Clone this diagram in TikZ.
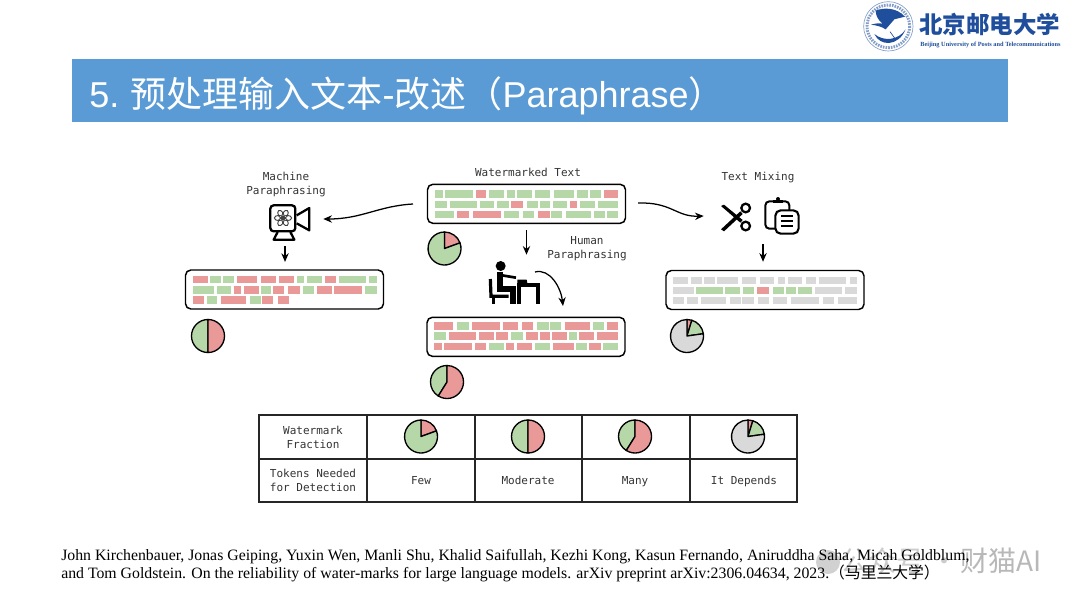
\documentclass[tikz,border=0pt]{standalone}
\usepackage{fontspec}
\setmainfont{Liberation Serif}
\setsansfont{Liberation Sans}
\setmonofont{DejaVu Sans Mono}
\newfontfamily\cjk{Noto Sans CJK SC}
\newfontfamily\cjkheavy{Noto Sans CJK SC Black}
\usetikzlibrary{arrows.meta,positioning,calc}

\definecolor{tokg}{HTML}{B6D7A8}
\definecolor{tokr}{HTML}{EA9999}
\definecolor{tokk}{HTML}{D9D9D9}
\definecolor{headerblue}{HTML}{5B9BD5}
\definecolor{schoolblue}{HTML}{1F4E9C}

\tikzset{
    tokenbox/.style={draw=black, line width=1.1pt, rounded corners=4pt, fill=white,
        minimum width=148.5pt, minimum height=29.25pt, inner sep=0pt},
    iconbox/.style={inner sep=0pt, minimum width=#1},
    monolabel/.style={font=\ttfamily\fontsize{8.25}{10.5}\selectfont, text=black!80, align=center, inner sep=0pt},
    flowarrow/.style={-{Stealth[length=6.5pt,width=5.5pt]}, line width=0.95pt},
    pieline/.style={draw=black, line width=1pt, line join=round},
    tableline/.style={draw=black!85, line width=0.8pt, line cap=rect}
}

% one row of tokens, in zoomed units
\newcommand{\tokenrow}[2]{
    \foreach \xa/\xb/\col in {#2} {
        \fill[fill=tok\col] (\xa,#1-1) rectangle (\xb,#1+21);
    }
}
% pie chart at a centre, wedges as start/end/colour
\newcommand{\wmpie}[3]{
    \begin{scope}[shift={(#1,#2)},y=0.75pt]
        \foreach \a/\b/\col in {#3} {
            \filldraw[pieline, fill=tok\col] (0,0) -- (\a:16.5) arc (\a:\b:16.5) -- cycle;
        }
    \end{scope}
}

\begin{document}
\begin{tikzpicture}[x=0.75pt,y=-0.75pt]
    \useasboundingbox (0,0) rectangle (1080,604);

    % header
    \fill[headerblue] (72,59) rectangle (1008,122);
    \node[anchor=base west, inner sep=0pt, text=white, font=\sffamily\fontsize{27}{27}\selectfont] (title) at (89,107)
        {5.\hspace{8.5pt}{\cjk 预处理输入文本}-{\cjk 改述（}Paraphrase{\cjk ）}};

    % school logo
    \begin{scope}[shift={(855,0)},scale=1/3]
        \draw[schoolblue!55, line width=0.5pt] (100,79) circle (74);
        \draw[schoolblue!55, line width=2.2pt, dash pattern=on 1.2pt off 0.8pt] (100,79) circle (64);
        \fill[schoolblue] (62,32) .. controls (85,22) and (125,22) .. (150,50)
            -- (118,58) -- (92,88) .. controls (80,80) and (65,76) .. (48,74)
            .. controls (62,70) and (75,68) .. (84,72) .. controls (68,60) and (62,45) .. (62,32) -- cycle;
        \fill[schoolblue] (58,102) .. controls (75,140) and (130,140) .. (152,88)
            .. controls (130,122) and (85,125) .. (58,102) -- cycle;
        \draw[schoolblue, line width=0.5pt] (105,95) -- (120,116);
    \end{scope}
    \node[anchor=west, inner sep=0pt, text=schoolblue, font=\cjkheavy\fontsize{17.6}{18}\selectfont] (school) at (919,24) {北京邮电大学};
    \node[anchor=west, inner sep=0pt, text=schoolblue, font=\rmfamily\bfseries\fontsize{4.75}{5}\selectfont] (schoolen) at (920,45) {Beijing University of Posts and Telecommunications};

    % token boxes
    \node[tokenbox] (watermarked) at (526.5,203.8) {};
    \node[tokenbox] (machine) at (284.5,289.5) {};
    \node[tokenbox] (human) at (526,336.8) {};
    \node[tokenbox] (mixing) at (765,290) {};

    % watermarked
    \begin{scope}[shift={(410,155)},scale=1/3]
        \tokenrow{107}{75/98/g,105/188/g,197/229/r,238/283/g,292/314/g,322/367/g,376/421/g,431/493/g,501/534/g,541/574/g,581/625/r}
        \tokenrow{138}{75/111/g,119/201/g,209/253/g,262/296/g,304/340/r,351/385/g,391/421/g,428/472/g,480/501/r,510/554/g,563/625/g}
        \tokenrow{168}{75/131/g,142/178/r,190/272/r,282/327/g,338/372/g,384/419/r,422/456/g,467/542/g,552/585/g,591/625/g}
        % human
        \tokenrow{503}{73/129/r,140/176/g,187/270/r,280/325/r,336/370/r,381/416/g,420/454/g,464/540/r,549/583/g,590/623/r}
        \tokenrow{533}{73/109/g,117/199/r,207/251/r,259/293/r,302/338/g,349/383/r,389/419/r,425/470/r,478/500/g,508/553/r,561/623/r}
        \tokenrow{564}{73/95/r,103/186/r,195/227/r,236/281/g,289/312/r,320/365/r,374/420/g,429/491/r,498/532/g,538/572/r,579/623/g}
    \end{scope}
    % machine
    \begin{scope}[shift={(170,155)},scale=1/3]
        \tokenrow{364}{68/113/r,120/153/g,160/193/g,200/262/r,273/317/r,328/372/r,381/403/g,412/456/g,466/497/r,506/588/g,598/620/g}
        \tokenrow{395}{70/131/g,140/184/g,193/214/r,222/266/r,273/303/g,310/342/r,355/390/r,398/433/g,441/485/r,493/576/r,584/620/g}
        \tokenrow{425}{70/102/r,110/142/g,154/227/r,239/273/g,275/310/r,323/356/r}
    \end{scope}
    % mixing
    \begin{scope}[shift={(630,155)},scale=1/3]
        \tokenrow{366}{130/175/k,182/215/k,222/255/k,262/324/k,335/379/k,389/433/k,443/465/k,473/517/k,527/558/k,567/649/k,659/680/k}
        \tokenrow{397}{130/193/k,197/278/g,286/330/g,339/371/g,381/416/r,428/461/g,468/498/g,503/546/g,554/636/k,644/680/k}
        \tokenrow{427}{130/162/k,170/204/k,214/288/k,300/332/k,336/371/k,384/417/k,428/472/k,484/566/k,578/612/k,624/680/k}
    \end{scope}

    % labels
    \node[monolabel] (wmlabel) at (528,172) {Watermarked Text};
    \node[monolabel] (machinelabel) at (286,184) {Machine\\Paraphrasing};
    \node[monolabel] (humanlabel) at (587,248.5) {Human\\Paraphrasing};
    \node[monolabel] (mixlabel) at (758,177) {Text Mixing};

    % camera
    \begin{scope}[shift={(262,198)},scale=1/3]
        \draw[line width=1.7pt, rounded corners=2.5pt] (25,22) rectangle (100,100);
        \draw[line width=1.7pt, line join=round] (104,52) -- (142,30) -- (142,97) -- (104,76);
        \draw[line width=1.7pt, line join=round] (47,102) -- (35,125) -- (97,125) -- (85,102);
        \foreach \a in {0,60,...,300} {
            \draw[black!75, line width=0.7pt, rotate around={\a:(63,60)}] (75,60) ellipse (14 and 8);
        }
    \end{scope}

    % person at desk
    \begin{scope}[shift={(480,255)},scale=1/3]
        \fill (62,33) circle (15);
        \draw[line width=4.4pt, line join=miter] (59,50) -- (59,103) -- (98,103) -- (98,148);
        \draw[line width=2pt] (60,60) -- (108,68);
        \draw[line width=2.4pt, line join=miter] (31,72) -- (33,124) -- (86,124);
        \draw[line width=2.4pt] (40,124) -- (40,148);
        \draw[line width=3pt, line join=miter] (118,148) -- (118,90) -- (175,90) -- (175,148);
        \fill (112,74) -- (140,74) -- (142,84) -- (112,84) -- cycle;
    \end{scope}

    % scissors and clipboard
    \begin{scope}[shift={(712,192)},scale=1/3]
        \fill (27,42) -- (36,38) -- (92,84) -- (85,92) -- cycle;
        \fill (27,112) -- (36,118) -- (92,66) -- (85,58) -- cycle;
        \draw[line width=1.7pt] (101,48) circle (13);
        \draw[line width=1.7pt] (101,102) circle (13);
        \draw[line width=1.5pt, rounded corners=3pt] (190,110) -- (160,110) -- (160,28) -- (232,28) -- (232,55);
        \fill (183,33) rectangle (213,24);
        \fill (198,21) circle (6);
        \draw[line width=1.6pt, fill=white, rounded corners=4pt] (190,55) rectangle (260,125);
        \foreach \yy in {73,88,103} {
            \draw[line width=1.3pt] (207,\yy) -- (243,\yy);
        }
    \end{scope}

    % invisible frames for the icons
    \node[iconbox=57pt, minimum height=40.5pt] (camera) at (285,219) {};
    \node[iconbox=88.5pt, minimum height=42pt] (clipper) at (763,216) {};
    \node[iconbox=60pt, minimum height=37.5pt] (person) at (526.5,280) {};
    \coordinate (turnfrom) at (535,272);
    \coordinate (turnto) at (563,306);
    \coordinate (wmleft) at (413,204);
    \coordinate (wmright) at (638,203);

    % arrows
    \draw[flowarrow] (wmleft) .. controls (378,206) and (362,219) .. (camera.east);
    \draw[flowarrow] (wmright) .. controls (672,202) and (676,217) .. (clipper.west);
    \draw[flowarrow, shorten >=5.5pt] (camera.south) -- (camera.south |- machine.north);
    \draw[flowarrow, shorten >=6pt] (clipper.south) -- (clipper.south |- mixing.north);
    \draw[flowarrow, shorten <=4.5pt] (watermarked.south) -- (person.north);
    \draw[flowarrow] (turnfrom) .. controls (550,268) and (561,288) .. (turnto);

    % pies
    \wmpie{444.5}{248.5}{90/20/r,20/-270/g}
    \wmpie{208}{336}{90/270/g,-90/90/r}
    \wmpie{447}{382}{90/238/g,238/450/r}
    \wmpie{687}{336}{90/73/r,73/8/g,8/-270/k}

    % table
    \draw[tableline] (259,415) rectangle (797,502);
    \draw[tableline] (259,459) -- (797,459);
    \foreach \xx in {367,475,582,690} {
        \draw[tableline] (\xx,415) -- (\xx,502);
    }
    \node[monolabel] (fraction) at (313,437) {Watermark\\Fraction};
    \node[monolabel] (needed) at (313,480.5) {Tokens Needed\\for Detection};
    \node[monolabel, anchor=base] (few) at (421,484.5) {Few};
    \node[monolabel, anchor=base] (moderate) at (528,484.5) {Moderate};
    \node[monolabel, anchor=base] (many) at (635,484.5) {Many};
    \node[monolabel, anchor=base] (depends) at (744,484.5) {It Depends};
    \wmpie{421}{436.5}{90/20/r,20/-270/g}
    \wmpie{528}{436.5}{90/270/g,-90/90/r}
    \wmpie{635}{436.5}{90/238/g,238/450/r}
    \wmpie{748}{436.5}{90/73/r,73/8/g,8/-270/k}

    % watermark
    \fill[black!18] (828,562) circle (12);
    \node[anchor=west, inner sep=0pt, text=black!20, font=\cjk\fontsize{21}{21}\selectfont] (mpname) at (840,561) {公众号 ·};
    \node[anchor=west, inner sep=0pt, text=black!28, font=\cjk\fontsize{21}{21}\selectfont] (mpcat) at (960,561) {财猫AI};

    % reference
    \node[anchor=base west, inner sep=0pt, font=\rmfamily\fontsize{11.85}{11.85}\selectfont] (refone) at (61,560)
        {John Kirchenbauer, Jonas Geiping, Yuxin Wen, Manli Shu, Khalid Saifullah, Kezhi Kong, Kasun Fernando, Aniruddha Saha, Micah Goldblum,};
    \node[anchor=base west, inner sep=0pt, font=\rmfamily\fontsize{11.85}{11.85}\selectfont] (reftwo) at (61,578)
        {and Tom Goldstein. On the reliability of water-marks for large language models. arXiv preprint arXiv:2306.04634, 2023.{\cjk （马里兰大学）}};
\end{tikzpicture}
\end{document}
